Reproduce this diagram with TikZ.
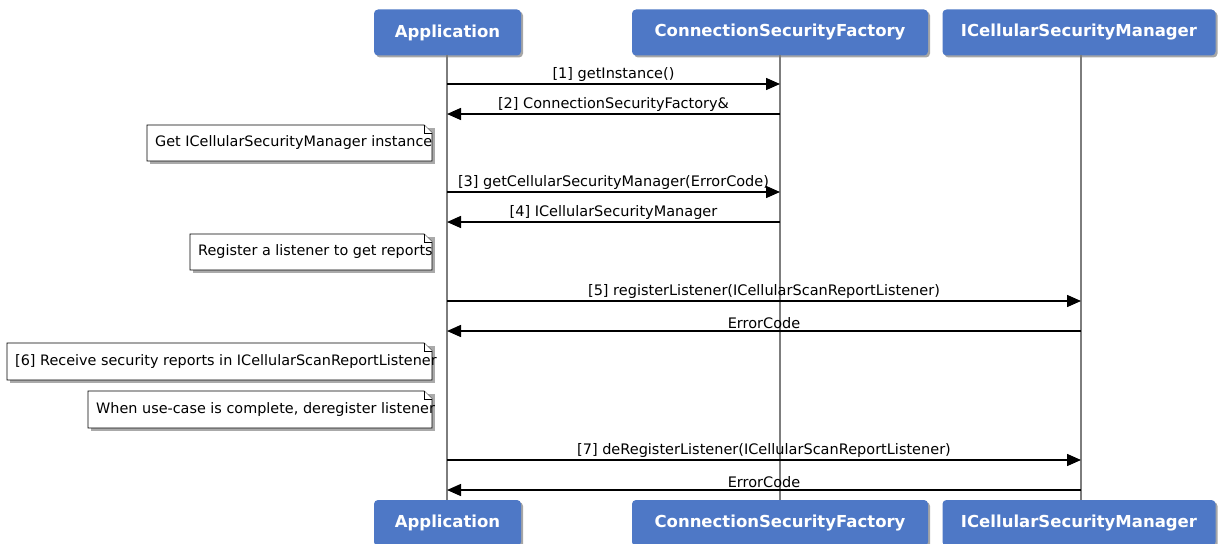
\documentclass[tikz,border=0pt]{standalone}
\usepackage{fontspec}
\setmainfont{DejaVu Sans}
\usetikzlibrary{arrows.meta,shadows,calc}
\definecolor{boxblue}{RGB}{78,120,198}
\definecolor{lifegray}{RGB}{125,125,125}
\definecolor{shadowgray}{RGB}{170,170,170}
\tikzset{
  hdr/.style={fill=boxblue, rounded corners=4pt, text=white, inner sep=0pt,
    font=\bfseries\fontsize{16.5}{18}\selectfont, minimum height=46pt,
    drop shadow={shadow xshift=2pt, shadow yshift=-2pt, fill=black, opacity=0.35}},
  life/.style={draw=lifegray, line width=1.5pt},
  msg/.style={draw=black, line width=1.5pt, -{Triangle[length=14pt,width=12pt]}},
  lbl/.style={above, inner sep=2pt, font=\fontsize{14.5}{16}\selectfont},
  notebox/.style={draw=black, line width=0.9pt, fill=white},
  notetext/.style={anchor=west, inner sep=0pt, font=\fontsize{14.4}{16}\selectfont}
}
\newcommand{\drawnote}[6]{%
  \fill[shadowgray] (#2+3,#3+3) rectangle (#4+3,#5+3);
  \draw[notebox] (#2,#3) -- (#4-8,#3) -- (#4,#3+8) -- (#4,#5) -- (#2,#5) -- cycle;
  \draw[notebox] (#4-8,#3) -- (#4-8,#3+8) -- (#4,#3+8);
  \node[notetext] (#1) at (#2+8,{(#3+#5)/2}) {#6};
}
\begin{document}
\begin{tikzpicture}[x=1pt,y=-1pt]
\useasboundingbox (0,0) rectangle (1222,543);
\fill[white] (0,0) rectangle (1222,543);
% header boxes
\node[hdr, minimum width=147pt] (appT) at (447.5,32.5) {Application};
\node[hdr, minimum width=296pt] (csfT) at (780,32.5) {ConnectionSecurityFactory};
\node[hdr, minimum width=273pt] (icsT) at (1079,32.5) {ICellularSecurityManager};
\node[hdr, minimum width=147pt] (appB) at (447.5,523) {Application};
\node[hdr, minimum width=296pt] (csfB) at (780,523) {ConnectionSecurityFactory};
\node[hdr, minimum width=273pt] (icsB) at (1079,523) {ICellularSecurityManager};
% lifelines
\coordinate (aT) at (447,55); \coordinate (aB) at (447,500);
\coordinate (fT) at (780,55); \coordinate (fB) at (780,500);
\coordinate (iT) at (1081,55); \coordinate (iB) at (1081,500);
\draw[life] (aT) -- (aB);
\draw[life] (fT) -- (fB);
\draw[life] (iT) -- (iB);
% message anchor points
\foreach \n/\y in {1/84,2/114,3/192,4/222,5/301,6/331,7/460,8/490}{
  \coordinate (a\n) at (447,\y);
  \coordinate (f\n) at (780,\y);
  \coordinate (i\n) at (1081,\y);
}
\draw[msg] (a1) -- node[lbl] {[1] getInstance()} (f1);
\draw[msg] (f2) -- node[lbl] {[2] ConnectionSecurityFactory\&} (a2);
\draw[msg] (a3) -- node[lbl] {[3] getCellularSecurityManager(ErrorCode)} (f3);
\draw[msg] (f4) -- node[lbl] {[4] ICellularSecurityManager} (a4);
\draw[msg] (a5) -- node[lbl] {[5] registerListener(ICellularScanReportListener)} (i5);
\draw[msg] (i6) -- node[lbl] {ErrorCode} (a6);
\draw[msg] (a7) -- node[lbl] {[7] deRegisterListener(ICellularScanReportListener)} (i7);
\draw[msg] (i8) -- node[lbl] {ErrorCode} (a8);
% notes
\drawnote{n1}{147}{125}{432}{161}{Get ICellularSecurityManager instance}
\drawnote{n2}{190}{234}{432}{270}{Register a listener to get reports}
\drawnote{n3}{7}{343}{432}{380}{[6] Receive security reports in ICellularScanReportListener}
\drawnote{n4}{88}{391}{432}{428}{When use-case is complete, deregister listener}
\end{tikzpicture}
\end{document}
